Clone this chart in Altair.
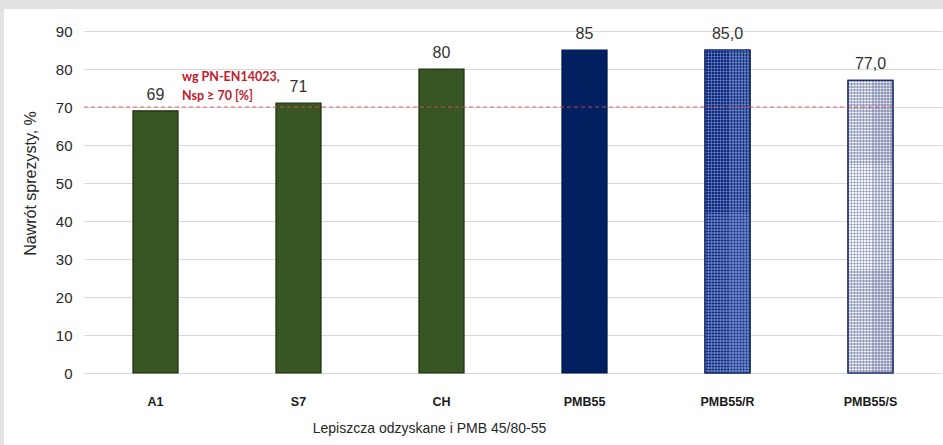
import altair as alt
import pandas as pd

# Elastic recovery of recovered binders and PMB 45/80-55
categories = ["A1", "S7", "CH", "PMB55", "PMB55/R", "PMB55/S"]
values = [69, 71, 80, 85, 85.0, 77.0]
value_labels = ["69", "71", "80", "85", "85,0", "77,0"]
fills = ["#385623", "#385623", "#385623", "#002060", "#0d2a78", "#f4f6fa"]
strokes = ["#1c2d10", "#1c2d10", "#1c2d10", "#001a4d", "#0f2260", "#1f2f6a"]
y_ticks = [0, 10, 20, 30, 40, 50, 60, 70, 80, 90]

requirement = 70
requirement_lines = ["wg PN-EN14023,", "Nsp \u2265 70 [%]"]

FONT = "Liberation Sans"
PLOT_W, PLOT_H, Y_MAX = 858, 342, 90
BAR_W = 45

df = pd.DataFrame({"cat": categories, "val": values, "lab": value_labels})

x_enc = alt.X(
    "cat:N",
    sort=categories,
    scale=alt.Scale(paddingInner=0.685, paddingOuter=0.3425),
    axis=alt.Axis(
        title="Lepiszcza odzyskane i PMB 45/80-55",
        labelAngle=0,
        labelFont=FONT,
        labelFontSize=12.5,
        labelFontWeight="bold",
        labelColor="#1a1a1a",
        labelPadding=22,
        ticks=False,
        domain=False,
        titleFont=FONT,
        titleFontSize=14,
        titleFontWeight="normal",
        titleColor="#262626",
        titleX=345,
        titleY=55,
        titleAnchor="middle",
        titleAlign="center",
        titleBaseline="middle",
    ),
)

y_enc = alt.Y(
    "val:Q",
    scale=alt.Scale(domain=[0, Y_MAX], nice=False),
    axis=alt.Axis(
        title="Nawrót sprezysty, %",
        values=y_ticks,
        tickCount=10,
        labelOverlap=False,
        labelFont=FONT,
        labelFontSize=15,
        labelColor="#262626",
        labelPadding=12,
        ticks=False,
        domain=False,
        grid=True,
        gridColor="#d9d9d9",
        gridWidth=1,
        titleFont=FONT,
        titleFontSize=16,
        titleFontWeight="normal",
        titleColor="#262626",
        titleAngle=-90,
        titleX=-54,
        titleY=152,
        titleAlign="center",
        titleBaseline="middle",
    ),
)


def stripes(color, n, horizontal):
    """Hard-edged alternating stripes: colour / transparent, n periods."""
    stops = []
    for i in range(n):
        a, b, c = i / n, (i + 0.5) / n, (i + 1) / n
        stops += [
            alt.GradientStop(offset=a, color=color),
            alt.GradientStop(offset=b, color=color),
            alt.GradientStop(offset=b, color="rgba(0,0,0,0)"),
            alt.GradientStop(offset=c, color="rgba(0,0,0,0)"),
        ]
    if horizontal:
        return alt.LinearGradient(gradient="linear", x1=0, x2=1, y1=0, y2=0, stops=stops)
    return alt.LinearGradient(gradient="linear", x1=0, x2=0, y1=0, y2=1, stops=stops)


bars = alt.Chart(df).mark_bar(strokeWidth=1.2).encode(
    x=x_enc,
    y=y_enc,
    fill=alt.Fill("cat:N", scale=alt.Scale(domain=categories, range=fills), legend=None),
    stroke=alt.Stroke("cat:N", scale=alt.Scale(domain=categories, range=strokes), legend=None),
)

# dotted texture on the two modified PMB bars
texture_layers = []
for cat, dot_color in [("PMB55/R", "rgba(120,145,210,0.55)"), ("PMB55/S", "rgba(70,85,140,0.35)")]:
    val = values[categories.index(cat)]
    h_px = val / Y_MAX * PLOT_H
    for horizontal, n in [(True, round(BAR_W / 3)), (False, round(h_px / 3))]:
        texture_layers.append(
            alt.Chart(df).transform_filter(alt.datum.cat == cat).mark_bar(
                fill=stripes(dot_color, n, horizontal), strokeOpacity=0
            ).encode(x=x_enc, y=y_enc)
        )

outline = alt.Chart(df).transform_filter(
    alt.FieldOneOfPredicate(field="cat", oneOf=["PMB55/R", "PMB55/S"])
).mark_bar(fillOpacity=0, strokeWidth=1.2).encode(
    x=x_enc,
    y=y_enc,
    stroke=alt.Stroke("cat:N", scale=alt.Scale(domain=categories, range=strokes), legend=None),
)

labels = alt.Chart(df).mark_text(
    baseline="bottom", dy=-8, font=FONT, fontSize=16, color="#333333"
).encode(
    x=x_enc,
    y=y_enc,
    text="lab:N",
)

req_df = pd.DataFrame({"val": [requirement]})
req_line = alt.Chart(req_df).mark_rule(
    color="#e8484f", strokeDash=[4, 3], strokeWidth=1, opacity=0.85
).encode(
    y=y_enc,
    x=alt.value(0),
    x2=alt.value(811),
)

note_df = pd.DataFrame({"t": [requirement_lines]})
note = alt.Chart(note_df).mark_text(
    align="left", baseline="top", font="Lato", fontSize=12.5, fontWeight="bold",
    color="#c0202a", lineHeight=19,
).encode(
    x=alt.value(98),
    y=alt.value(40),
    text="t",
)

# light grey frame along the top and left edges
frame_top = alt.Chart(pd.DataFrame({"k": ["top"]})).mark_rect(color="#e2e2e2").encode(
    x=alt.value(-84), x2=alt.value(859), y=alt.value(-31), y2=alt.value(-22)
)
frame_left = alt.Chart(pd.DataFrame({"k": ["left"]})).mark_rect(color="#e2e2e2").encode(
    x=alt.value(-84), x2=alt.value(-80), y=alt.value(-31), y2=alt.value(414)
)

chart = alt.layer(
    frame_top, frame_left, bars, *texture_layers, outline, req_line, labels, note
).properties(
    width=PLOT_W,
    height=PLOT_H,
    autosize=alt.AutoSizeParams(type="none"),
    padding={"left": 84, "top": 31, "right": 1, "bottom": 72},
    background="white",
).configure_view(stroke=None)

chart.save("out.html", embed_options={"renderer": "svg", "actions": False})
